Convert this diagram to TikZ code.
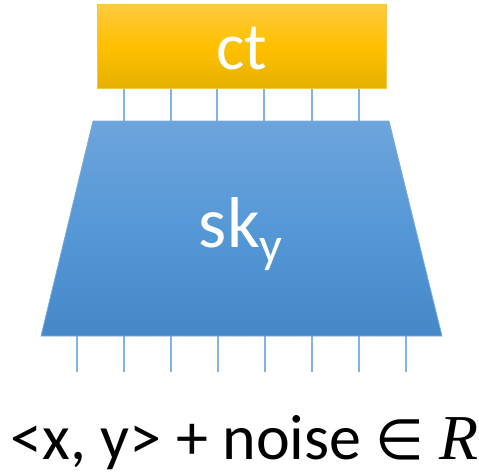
\documentclass[tikz,border=0pt]{standalone}
\usepackage{fontspec}
\setmainfont{Carlito}
\newfontfamily\symfam{DejaVu Sans}
\newfontfamily\rfam{Liberation Serif}
\definecolor{otop}{HTML}{FFCA40}
\definecolor{omid}{HTML}{FFC000}
\definecolor{obot}{HTML}{E6B000}
\definecolor{oedge}{HTML}{F5C64A}
\definecolor{btop}{HTML}{6DA4DC}
\definecolor{bmid}{HTML}{5598D6}
\definecolor{bbot}{HTML}{4488C8}
\definecolor{bedge}{HTML}{7AADE0}
\definecolor{wire}{HTML}{82B3E3}
\begin{document}
\begin{tikzpicture}[x=1pt,y=-1pt,
  wirestyle/.style={draw=wire,line width=1.5pt},
  ctbox/.style={draw=oedge,line width=0.8pt,top color=otop,bottom color=obot,middle color=omid},
  skbox/.style={draw=bedge,line width=0.8pt,top color=btop,bottom color=bbot,middle color=bmid},
  bigtxt/.style={text=white,inner sep=0pt,anchor=base}]
\useasboundingbox (0,0) rectangle (479,472);
% wires between ct and sk
\foreach \i/\x in {1/124,2/171,3/217,4/264,5/312,6/359}{
  \coordinate (ta\i) at (\x,88);
  \coordinate (tb\i) at (\x,122);
  \draw[wirestyle] (ta\i) -- (tb\i);
}
% wires below sk
\foreach \i/\x in {1/77,2/124,3/171,4/218,5/265,6/312,7/359,8/406}{
  \coordinate (ba\i) at (\x,336);
  \coordinate (bb\i) at (\x,372);
  \draw[wirestyle] (ba\i) -- (bb\i);
}
\path[ctbox] (97,4) rectangle (386,88);
\path[skbox] (93,121) -- (389,121) -- (442,336) -- (41,336) -- cycle;
\node[bigtxt,font=\fontsize{67}{70}\selectfont] (ct) at (241.5,69) {ct};
\node[bigtxt,font=\fontsize{72}{76}\selectfont] (sk) at (241,247) {sk\textsubscript{y}};
\node[inner sep=0pt,anchor=base,font=\fontsize{64}{68}\selectfont] (out) at (244.5,459) {<x, y> + noise {\symfam\fontsize{56}{60}\selectfont ∈} {\rfam\itshape R}};
\end{tikzpicture}
\end{document}
